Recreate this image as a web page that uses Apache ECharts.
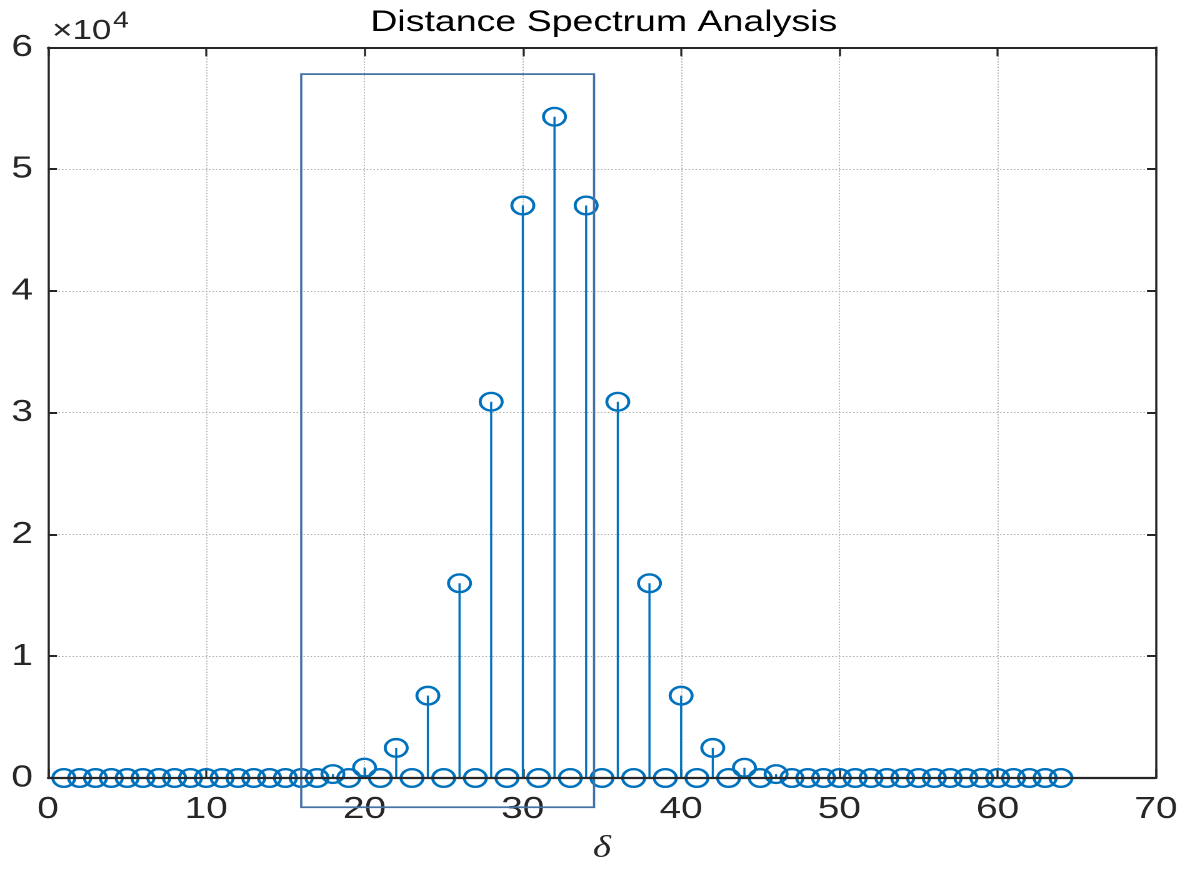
<!DOCTYPE html>
<html>
<head>
<meta charset="utf-8">
<script src="https://cdn.jsdelivr.net/npm/echarts@6/dist/echarts.min.js"></script>
<style>
  html, body { margin: 0; padding: 0; background: #fff; overflow: hidden; }
  #wrap { width: 1181px; height: 869px; overflow: hidden; }
  #chart { width: 945px; height: 869px; transform: scaleX(1.25); transform-origin: 0 0; }
</style>
</head>
<body>
<div id="wrap"><div id="chart"></div></div>
<script>
// ---- data ----
const titleText = 'Distance Spectrum Analysis';
const xLabel = 'δ';
const distances = [];
for (let d = 1; d <= 64; d++) distances.push(d);
const spectrum = [
  0, 0, 0, 0, 0, 0, 0, 0, 0, 0,          // 1-10
  0, 0, 0, 0, 0, 0, 0, 320, 0, 850,      // 11-20
  0, 2470, 0, 6760, 0, 15990, 0, 30900, 0, 47010, // 21-30
  0, 54300, 0, 47010, 0, 30900, 0, 15990, 0, 6760, // 31-40
  0, 2470, 0, 840, 0, 320, 0, 0, 0, 0,   // 41-50
  0, 0, 0, 0, 0, 0, 0, 0, 0, 0,          // 51-60
  0, 0, 0, 0                             // 61-64
];
const xTicks = [0, 10, 20, 30, 40, 50, 60, 70];
const yTicks = [0, 1, 2, 3, 4, 5, 6];   // in units of 10^4
const yScale = 10000;
const boxX = [16, 34.5];
const boxY = [-2400, 57800];

const points = distances.map((d, i) => [d, spectrum[i]]);

const FONT = '"Liberation Sans", Arial, Helvetica, sans-serif';
const INK = '#262626';
const STEM = '#0072BD';

const chart = echarts.init(document.getElementById('chart'), null, { devicePixelRatio: 2 });

const gridLine = { show: true, lineStyle: { color: '#b0b0b0', type: [1.2, 1.6], width: 1 } };

const baseX = {
  type: 'value', min: xTicks[0], max: xTicks[xTicks.length - 1],
  interval: xTicks[1] - xTicks[0],
  axisLine: { show: true, onZero: false, lineStyle: { color: INK, width: 2 } },
  axisTick: { show: true, inside: true, length: 9, lineStyle: { color: INK, width: 1.6 } },
};
const baseY = {
  type: 'value', min: yTicks[0] * yScale, max: yTicks[yTicks.length - 1] * yScale,
  interval: (yTicks[1] - yTicks[0]) * yScale,
  axisLine: { show: true, onZero: false, lineStyle: { color: INK, width: 1.7 } },
  axisTick: { show: true, inside: true, length: 7.2, lineStyle: { color: INK, width: 2 } },
};

chart.setOption({
  animation: false,
  backgroundColor: '#ffffff',
  grid: { left: 38.4, right: 17, top: 47.3, bottom: 85.4, containLabel: false },
  graphic: [
    { type: 'text', x: 483, y: 22.5, z: 10,
      style: { text: titleText, font: '30px ' + FONT, fill: '#000', textAlign: 'center', textVerticalAlign: 'middle' } },
    { type: 'text', x: 41.6, y: 31.5, z: 10,
      style: { text: '×10', font: '28px ' + FONT, fill: INK, textAlign: 'left', textVerticalAlign: 'middle' } },
    { type: 'text', x: 90.4, y: 21, z: 10,
      style: { text: '4', font: '23px ' + FONT, fill: INK, textAlign: 'left', textVerticalAlign: 'middle' } }
  ],
  xAxis: [
    Object.assign({}, baseX, {
      position: 'bottom',
      axisLabel: { show: true, margin: 16, fontSize: 31, fontFamily: FONT, color: INK },
      splitLine: gridLine,
      name: xLabel, nameLocation: 'middle', nameGap: 55,
      nameTextStyle: { fontFamily: '"Liberation Serif", "Times New Roman", serif', fontStyle: 'italic', fontSize: 31, color: INK }
    }),
    Object.assign({}, baseX, {
      position: 'top', axisLabel: { show: false }, splitLine: { show: false }
    })
  ],
  yAxis: [
    Object.assign({}, baseY, {
      position: 'left',
      axisLabel: { show: true, margin: 12, fontSize: 31, fontFamily: FONT, color: INK,
        formatter: v => String(Math.round(v / yScale)) },
      splitLine: gridLine
    }),
    Object.assign({}, baseY, {
      position: 'right', axisLabel: { show: false }, splitLine: { show: false }
    })
  ],
  series: [
    {
      name: 'stems', type: 'custom', xAxisIndex: 0, yAxisIndex: 0,
      data: points, encode: { x: 0, y: 1 }, z: 3,
      renderItem: function (params, api) {
        const x = api.value(0), y = api.value(1);
        const p0 = api.coord([x, 0]);
        const p1 = api.coord([x, y]);
        return { type: 'line', shape: { x1: p0[0], y1: p0[1], x2: p1[0], y2: p1[1] },
                 style: { stroke: STEM, lineWidth: 1.7 } };
      }
    },
    {
      name: 'markers', type: 'scatter', xAxisIndex: 0, yAxisIndex: 0,
      data: points, symbol: 'circle', symbolSize: 17.6, z: 4,
      itemStyle: { color: 'transparent', borderColor: STEM, borderWidth: 2.4, opacity: 1 },
      markLine: {
        silent: true, symbol: 'none', z: 6, label: { show: false },
        lineStyle: { color: INK, width: 2.2, type: 'solid' },
        data: [{ yAxis: 0 }]
      }
    },
    {
      name: 'box', type: 'custom', xAxisIndex: 0, yAxisIndex: 0, clip: false, z: 5,
      data: [[boxX[0], boxY[0], boxX[1], boxY[1]]],
      renderItem: function (params, api) {
        const a = api.coord([api.value(0), api.value(1)]);
        const b = api.coord([api.value(2), api.value(3)]);
        return { type: 'rect',
                 shape: { x: Math.min(a[0], b[0]), y: Math.min(a[1], b[1]),
                          width: Math.abs(b[0] - a[0]), height: Math.abs(b[1] - a[1]) },
                 style: { fill: 'none', stroke: '#4472a6', lineWidth: 1.8 } };
      }
    }
  ]
});
</script>
</body>
</html>
